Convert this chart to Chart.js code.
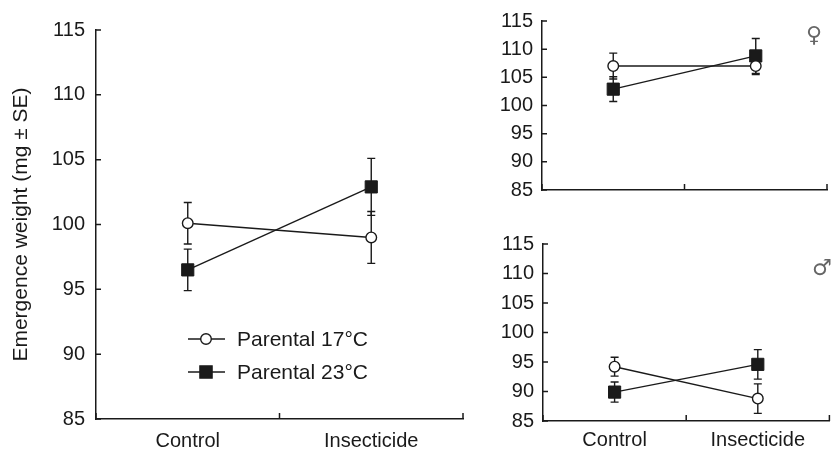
<!DOCTYPE html>
<html>
<head>
<meta charset="utf-8">
<script src="https://cdn.jsdelivr.net/npm/chart.js@4.4.0/dist/chart.umd.min.js"></script>
<style>
  body { margin: 0; background: #fff; width: 839px; height: 453px; position: relative; overflow: hidden; }
  canvas { position: absolute; }
  .sex { position: absolute; font-family: "DejaVu Sans", sans-serif; color: #666; font-size: 22px; line-height: 1; }
</style>
</head>
<body>
<canvas id="allChart" width="480" height="453" style="left:0;top:0"></canvas>
<canvas id="femaleChart" width="359" height="215" style="left:480px;top:0"></canvas>
<canvas id="maleChart" width="359" height="233" style="left:480px;top:220px"></canvas>
<div class="sex" style="left:806px;top:24px">♀</div>
<div class="sex" style="left:812px;top:257px">♂</div>
<script>
const groups = ['Control', 'Insecticide'];
const yTickValues = [85, 90, 95, 100, 105, 110, 115];
const seriesNames = ['Parental 17°C', 'Parental 23°C'];

// both sexes
const allMean17 = [100.1, 99.0];
const allSe17 = [1.6, 2.0];
const allMean23 = [96.5, 102.9];
const allSe23 = [1.6, 2.2];
// females
const femaleMean17 = [107.0, 107.0];
const femaleSe17 = [2.3, 1.5];
const femaleMean23 = [102.9, 108.8];
const femaleSe23 = [2.2, 3.1];
// males
const maleMean17 = [94.2, 88.8];
const maleSe17 = [1.6, 2.5];
const maleMean23 = [89.9, 94.6];
const maleSe23 = [1.7, 2.5];

const family = "'Liberation Sans', Arial, sans-serif";
const ink = '#1a1a1a';

// error bars, drawn under the markers
const errorBars = {
  id: 'errorBars',
  beforeDatasetsDraw(chart) {
    const ctx = chart.ctx;
    const x = chart.scales.x;
    const y = chart.scales.y;
    ctx.save();
    ctx.strokeStyle = ink;
    ctx.lineWidth = 1.4;
    chart.data.datasets.forEach((ds) => {
      ds.data.forEach((v, i) => {
        let px = x.getPixelForValue(i);
        let top = y.getPixelForValue(v + ds.se[i]);
        let bot = y.getPixelForValue(v - ds.se[i]);
        ctx.beginPath();
        ctx.moveTo(px, top); ctx.lineTo(px, bot);
        ctx.moveTo(px - 4, top); ctx.lineTo(px + 4, top);
        ctx.moveTo(px - 4, bot); ctx.lineTo(px + 4, bot);
        ctx.stroke();
      });
    });
    ctx.restore();
  }
};

// tick marks point into the plot
const innerTicks = {
  id: 'innerTicks',
  afterDraw(chart) {
    const {ctx, chartArea: a, scales: {x, y}} = chart;
    ctx.save();
    ctx.strokeStyle = ink;
    ctx.lineWidth = 1.5;
    ctx.beginPath();
    [-0.5, 0.5, 1.5].forEach(v => {
      let px = x.getPixelForValue(v);
      ctx.moveTo(px, a.bottom); ctx.lineTo(px, a.bottom - 6);
    });
    y.ticks.forEach(t => {
      let py = y.getPixelForValue(t.value);
      ctx.moveTo(a.left, py); ctx.lineTo(a.left + 5, py);
    });
    ctx.stroke();
    ctx.restore();
  }
};

// legend inside the left panel
const innerLegend = {
  id: 'innerLegend',
  afterDraw(chart) {
    const ctx = chart.ctx;
    const a = chart.chartArea;
    const x0 = a.left + 92;
    ctx.save();
    chart.data.datasets.forEach((ds, i) => {
      let yy = a.top + 309 + i * 33;
      ctx.strokeStyle = ink;
      ctx.lineWidth = 1.4;
      ctx.beginPath();
      ctx.moveTo(x0, yy); ctx.lineTo(x0 + 37, yy);
      ctx.stroke();
      ctx.fillStyle = ds.pointBackgroundColor;
      ctx.beginPath();
      if (ds.pointStyle === 'circle') {
        ctx.arc(x0 + 18, yy, ds.pointRadius, 0, Math.PI * 2);
      } else {
        let s = ds.pointRadius * Math.SQRT1_2;
        ctx.rect(x0 + 18 - s, yy - s, 2 * s, 2 * s);
      }
      ctx.fill();
      ctx.stroke();
      ctx.fillStyle = ink;
      ctx.font = `21px ${family}`;
      ctx.textBaseline = 'middle';
      ctx.fillText(ds.label, x0 + 49, yy + 1);
    });
    ctx.restore();
  }
};

function makeChart(id, mean17, se17, mean23, se23, box, extra) {
  return new Chart(document.getElementById(id), {
    type: 'line',
    data: {
      labels: groups,
      datasets: [
        {
          label: seriesNames[0], data: mean17, se: se17,
          borderColor: ink, borderWidth: 1.4,
          pointStyle: 'circle', pointRadius: 5.3,
          pointBackgroundColor: '#fff', pointBorderColor: ink, pointBorderWidth: 1.4
        },
        {
          label: seriesNames[1], data: mean23, se: se23,
          borderColor: ink, borderWidth: 1.4,
          pointStyle: 'rect', pointRadius: 8.6,
          pointBackgroundColor: ink, pointBorderColor: ink, pointBorderWidth: 1
        }
      ]
    },
    options: {
      responsive: false,
      animation: false,
      devicePixelRatio: 1,
      layout: { padding: { top: box.top, right: box.right, left: 0, bottom: 0 } },
      plugins: { legend: { display: false }, tooltip: { enabled: false } },
      scales: {
        x: {
          offset: true,
          grid: { display: false, drawTicks: false },
          border: { color: ink, width: 1.5 },
          ticks: { display: box.showX, color: ink, font: { family: family, size: 20 }, padding: box.xPad },
          afterFit: s => { s.height = box.xHeight; }
        },
        y: {
          min: 85, max: 115,
          afterBuildTicks: s => { s.ticks = yTickValues.map(v => ({ value: v })); },
          grid: { display: false, drawTicks: false },
          border: { color: ink, width: 1.5 },
          ticks: { color: ink, font: { family: family, size: 20 }, padding: box.yPad },
          title: {
            display: !!box.title, text: box.title || '', color: ink,
            font: { family: family, size: 21 }, padding: { top: 9, bottom: 0 }
          },
          afterFit: s => { s.width = box.yWidth; }
        }
      }
    },
    plugins: [errorBars, innerTicks].concat(extra)
  });
}

makeChart('allChart', allMean17, allSe17, allMean23, allSe23,
  { top: 30, right: 17, xHeight: 34, yWidth: 96, showX: true, xPad: 10, yPad: 11,
    title: 'Emergence weight (mg ± SE)' }, [innerLegend]);
makeChart('femaleChart', femaleMean17, femaleSe17, femaleMean23, femaleSe23,
  { top: 15, right: 12, xHeight: 25, yWidth: 62, showX: false, xPad: 8, yPad: 9 }, []);
makeChart('maleChart', maleMean17, maleSe17, maleMean23, maleSe23,
  { top: 24, right: 8, xHeight: 32, yWidth: 63, showX: true, xPad: 7, yPad: 9 }, []);
</script>
</body>
</html>
